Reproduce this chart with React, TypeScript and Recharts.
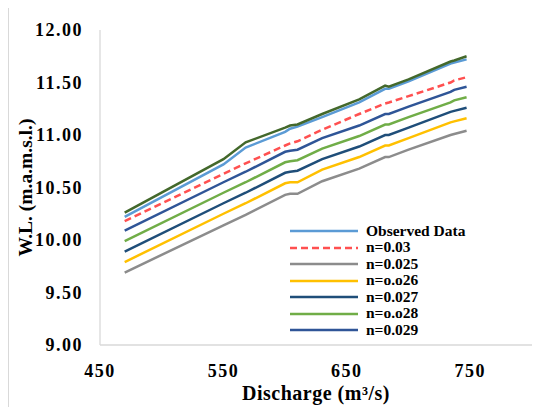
import { LineChart, Line, XAxis, YAxis, Legend, Label } from 'recharts'

const FONT = '"Liberation Serif", "Times New Roman", serif'

// discharge (m3/s) at the points where the profiles were read
const discharge = [470, 550, 568, 600, 604, 610, 630, 660, 681, 684, 700, 734, 737, 747]

// water levels (m.a.m.s.l.)
const observed = [10.22, 10.72, 10.88, 11.03, 11.06, 11.08, 11.17, 11.31, 11.44, 11.44, 11.51, 11.68, 11.69, 11.72]
const n030 = [10.18, 10.63, 10.73, 10.9, 10.92, 10.94, 11.05, 11.2, 11.3, 11.31, 11.37, 11.5, 11.52, 11.55]
const n025 = [9.69, 10.14, 10.24, 10.43, 10.44, 10.44, 10.56, 10.68, 10.79, 10.79, 10.86, 11.0, 11.01, 11.04]
const n026 = [9.79, 10.25, 10.35, 10.54, 10.55, 10.55, 10.67, 10.79, 10.9, 10.9, 10.97, 11.12, 11.13, 11.16]
const n027 = [9.89, 10.35, 10.45, 10.64, 10.65, 10.66, 10.77, 10.89, 11.0, 11.0, 11.07, 11.22, 11.23, 11.26]
const n028 = [9.99, 10.45, 10.55, 10.74, 10.75, 10.76, 10.87, 10.99, 11.1, 11.1, 11.17, 11.31, 11.33, 11.36]
const n029 = [10.09, 10.55, 10.65, 10.84, 10.85, 10.86, 10.97, 11.09, 11.2, 11.2, 11.27, 11.41, 11.43, 11.46]
// top line, not listed in the legend
const extra = [10.26, 10.77, 10.93, 11.07, 11.09, 11.1, 11.2, 11.34, 11.47, 11.46, 11.53, 11.7, 11.71, 11.75]

const xTicks = [450, 550, 650, 750]
const yTicks = [9, 9.5, 10, 10.5, 11, 11.5, 12]

const series = [
    { key: 'observed', name: 'Observed Data', color: '#5B9BD5', values: observed },
    { key: 'n030', name: 'n=0.03', color: '#FF5050', values: n030, dash: '7 4' },
    { key: 'n025', name: 'n=0.025', color: '#8C8C8C', values: n025 },
    { key: 'n026', name: 'n=o.o26', color: '#FFC000', values: n026 },
    { key: 'n027', name: 'n=0.027', color: '#1F4E79', values: n027 },
    { key: 'n028', name: 'n=o.o28', color: '#70AD47', values: n028 },
    { key: 'n029', name: 'n=0.029', color: '#2F5597', values: n029 },
    { key: 'extra', name: 'extra', color: '#43682B', values: extra, hidden: true },
]

const data = discharge.map((q, i) => {
    const row: Record<string, number> = { q }
    series.forEach((s) => {
        row[s.key] = s.values[i]
    })
    return row
})

function YTick({ x, y, payload }: any) {
    return (
        <text x={x} y={y} dy="0.35em" textAnchor="end" fontFamily={FONT} fontWeight="bold" fontSize={18} letterSpacing={1.5} fill="#000">
            {Number(payload.value).toFixed(2)}
        </text>
    )
}

function XTick({ x, y, payload }: any) {
    return (
        <text x={x} y={y} dy="0.71em" textAnchor="middle" fontFamily={FONT} fontWeight="bold" fontSize={18} letterSpacing={1.5} fill="#000">
            {payload.value}
        </text>
    )
}

function LegendBox() {
    const items = series.filter((s) => !s.hidden)
    return (
        <div style={{ fontFamily: FONT, fontWeight: 'bold', fontSize: 15.5, color: '#000' }}>
            {items.map((s) => (
                <div key={s.key} style={{ display: 'flex', alignItems: 'center', height: 16.5 }}>
                    <svg width={68} height={16} style={{ marginRight: 8 }}>
                        <line x1={0} y1={8} x2={68} y2={8} stroke={s.color} strokeWidth={2.5} strokeDasharray={s.dash} />
                    </svg>
                    <span style={{ lineHeight: '16.5px' }}>{s.name}</span>
                </div>
            ))}
        </div>
    )
}

export default function App() {
    return (
        <div style={{ width: 550, height: 400, marginTop: -1, borderTop: '1px solid #D9D9D9', borderLeft: '1px solid #D9D9D9', overflow: 'hidden', background: '#fff' }}>
            <LineChart width={549} height={399} data={data} margin={{ top: 22, right: 26, left: 0, bottom: 0 }}>
                <XAxis
                    dataKey="q"
                    type="number"
                    domain={[450, 800]}
                    ticks={xTicks}
                    allowDataOverflow
                    height={62}
                    tickLine={false}
                    tickSize={0}
                    tickMargin={19}
                    axisLine={{ stroke: '#D9D9D9', strokeWidth: 1.3 }}
                    tick={<XTick />}
                >
                    <Label
                        content={({ viewBox }: any) => (
                            <text x={viewBox.x + viewBox.width / 2} y={viewBox.y + 55} textAnchor="middle" fontFamily={FONT} fontWeight="bold" fontSize={20} letterSpacing={0.5} fill="#000">
                                Discharge (m³/s)
                            </text>
                        )}
                    />
                </XAxis>
                <YAxis
                    type="number"
                    domain={[9, 12]}
                    ticks={yTicks}
                    width={91}
                    tickLine={false}
                    tickSize={0}
                    tickMargin={17}
                    axisLine={{ stroke: '#D9D9D9', strokeWidth: 1.3 }}
                    tick={<YTick />}
                >
                    <Label
                        content={({ viewBox }: any) => {
                            const cx = viewBox.x + 16
                            const cy = viewBox.y + viewBox.height / 2
                            return (
                                <text x={cx} y={cy} dy="0.35em" transform={`rotate(-90 ${cx} ${cy})`} textAnchor="middle" fontFamily={FONT} fontWeight="bold" fontSize={19.5} fill="#000">
                                    W.L. (m.a.m.s.l.)
                                </text>
                            )
                        }}
                    />
                </YAxis>
                <Legend
                    layout="vertical"
                    align="center"
                    verticalAlign="middle"
                    content={() => <LegendBox />}
                    wrapperStyle={{ left: 281, top: 214.75, width: 200 }}
                />
                {series.map((s) => (
                    <Line
                        key={s.key}
                        type="linear"
                        dataKey={s.key}
                        name={s.name}
                        stroke={s.color}
                        strokeWidth={2.5}
                        strokeDasharray={s.dash}
                        dot={false}
                        activeDot={false}
                        legendType={s.hidden ? 'none' : 'line'}
                        isAnimationActive={false}
                    />
                ))}
            </LineChart>
        </div>
    )
}
